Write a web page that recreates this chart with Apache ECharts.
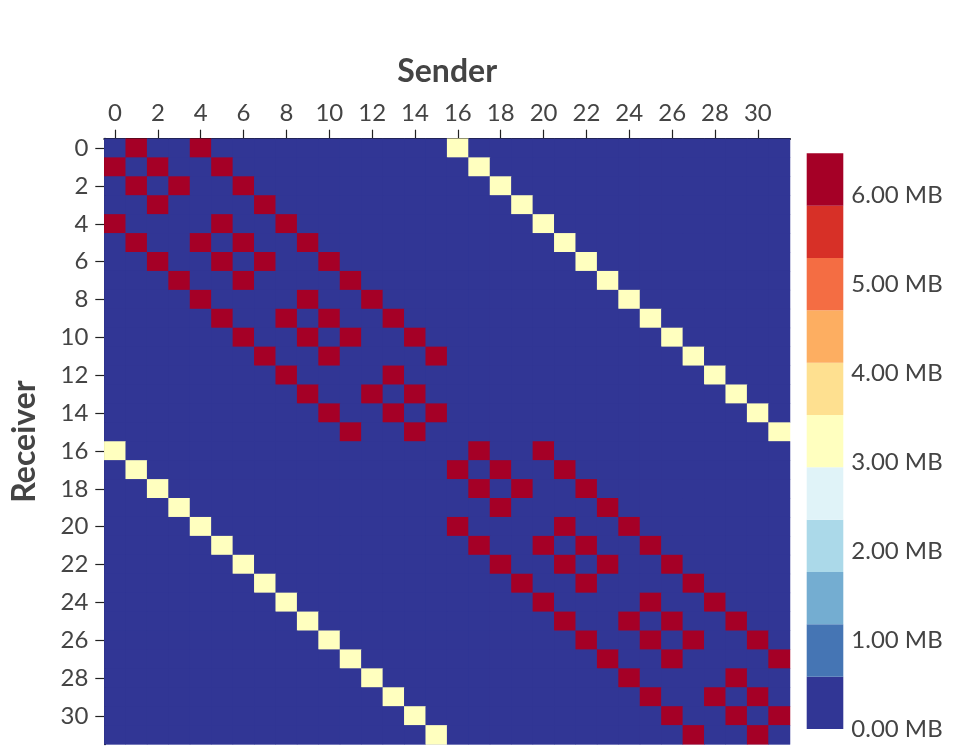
<!DOCTYPE html>
<html><head><meta charset="utf-8">
<script src="https://cdn.jsdelivr.net/npm/echarts@6/dist/echarts.min.js"></script>
<style>html,body{margin:0;padding:0;background:#fff}#chart{width:976px;height:751px}</style>
</head><body><div id="chart"></div>
<script>
// Categories (ranks)
const senders = ['0','1','2','3','4','5','6','7','8','9','10','11','12','13','14','15','16','17','18','19','20','21','22','23','24','25','26','27','28','29','30','31'];
const receivers = ['0','1','2','3','4','5','6','7','8','9','10','11','12','13','14','15','16','17','18','19','20','21','22','23','24','25','26','27','28','29','30','31'];

// For each receiver row: senders of the large (red) messages
const redSenders = [
  [1,4],[0,2,5],[1,3,6],[2,7],[0,5,8],[1,4,6,9],[2,5,7,10],[3,6,11],
  [4,9,12],[5,8,10,13],[6,9,11,14],[7,10,15],[8,13],[9,12,14],[10,13,15],[11,14],
  [17,20],[16,18,21],[17,19,22],[18,23],[16,21,24],[17,20,22,25],[18,21,23,26],[19,22,27],
  [20,25,28],[21,24,26,29],[22,25,27,30],[23,26,31],[24,29],[25,28,30],[26,29,31],[27,30]
];
// For each receiver row: sender of the medium (yellow) message
const yellowSenders = [16,17,18,19,20,21,22,23,24,25,26,27,28,29,30,31,0,1,2,3,4,5,6,7,8,9,10,11,12,13,14,15];

// Message sizes (MB)
const redValue = 6.47;
const yellowValue = 3.24;
const otherValue = 0;

// Colour scale (bottom -> top) and its range / ticks
const colorLevels = ['#313695','#4575b4','#74add1','#abd9e9','#e0f3f8','#ffffbf','#fee090','#fdae61','#f46d43','#d73027','#a50026'];
const zMin = 0;
const zMax = 6.47;
const colorbarTicks = [0,1,2,3,4,5,6];

const FONT = 'Lato';
const TXT = '#444';

const data = [];
for (let r = 0; r < receivers.length; r++) {
  for (let s = 0; s < senders.length; s++) {
    let v = otherValue;
    if (redSenders[r].indexOf(s) >= 0) v = redValue;
    else if (yellowSenders[r] === s) v = yellowValue;
    data.push([s, r, v]);
  }
}

const step = (zMax - zMin) / colorLevels.length;
const pieces = colorLevels.map((c, i) => {
  const p = { gte: zMin + i * step, color: c };
  if (i < colorLevels.length - 1) p.lt = zMin + (i + 1) * step; else p.lte = zMax + 1e-9;
  return p;
});

const colorbarSeries = colorLevels.map((c) => ({
  type: 'bar', xAxisIndex: 1, yAxisIndex: 1, stack: 'cb', barWidth: '100%',
  data: [step], itemStyle: { color: c }, silent: true, animation: false
}));

const chart = echarts.init(document.getElementById('chart'), null, { renderer: 'canvas' });
chart.setOption({
  animation: false,
  backgroundColor: '#fff',
  grid: [
    { left: 104.3, top: 138.7, width: 685.7, height: 605.6, show: true, backgroundColor: colorLevels[0], borderWidth: 0 },
    { left: 806.7, top: 153.3, width: 36.6, height: 575.7 }
  ],
  visualMap: {
    type: 'piecewise', show: false, seriesIndex: 0, dimension: 2,
    pieces: pieces
  },
  xAxis: [
    {
      type: 'category', data: senders, gridIndex: 0, position: 'top',
      axisLine: { show: true, lineStyle: { color: '#111', width: 2 } },
      axisTick: { show: true, alignWithLabel: true, interval: 1, length: 9, lineStyle: { color: '#222', width: 1.2 } },
      axisLabel: { interval: 1, margin: 13, fontSize: 24, color: TXT, fontFamily: FONT },
      splitLine: { show: false },
      name: 'Sender', nameLocation: 'middle', nameGap: 51,
      nameTextStyle: { fontSize: 32, fontWeight: 'bold', color: TXT, fontFamily: FONT }
    },
    { type: 'category', data: ['cb'], gridIndex: 1, show: false }
  ],
  yAxis: [
    {
      type: 'category', data: receivers, gridIndex: 0, inverse: true,
      axisLine: { show: true, lineStyle: { color: '#111', width: 2 } },
      axisTick: { show: true, alignWithLabel: true, interval: 1, length: 9, lineStyle: { color: '#222', width: 1.2 } },
      axisLabel: { interval: 1, margin: 16, fontSize: 24, color: TXT, fontFamily: FONT },
      splitLine: { show: false },
      name: 'Receiver', nameLocation: 'middle', nameGap: 64,
      nameTextStyle: { fontSize: 32, fontWeight: 'bold', color: TXT, fontFamily: FONT }
    },
    {
      type: 'value', gridIndex: 1, position: 'right', min: zMin, max: zMax, interval: 1,
      axisLine: { show: false }, splitLine: { show: false },
      axisTick: { show: true, inside: true, length: 7, customValues: colorbarTicks, lineStyle: { color: '#fff', width: 1.2 } },
      axisLabel: { show: true, margin: 8, fontSize: 24, color: TXT, fontFamily: FONT, customValues: colorbarTicks,
        formatter: (v) => (Math.abs(v - Math.round(v)) < 1e-6 ? v.toFixed(2) + ' MB' : '') }
    }
  ],
  series: [
    {
      type: 'heatmap', xAxisIndex: 0, yAxisIndex: 0, data: data,
      itemStyle: { borderWidth: 0 }, emphasis: { disabled: true }, silent: true
    }
  ].concat(colorbarSeries)
});
</script></body></html>
